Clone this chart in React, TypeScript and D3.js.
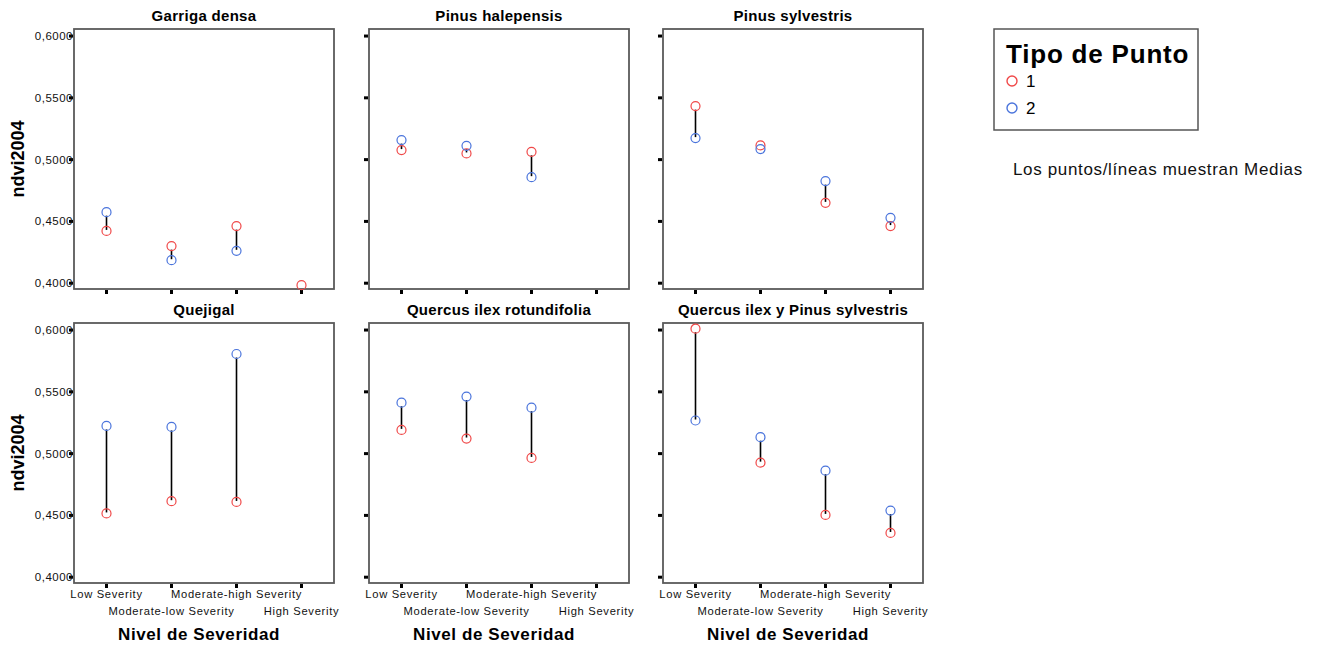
import React from "react";
import * as d3 from "d3";

// panel names, in reading order (top row then bottom row)
const panelNames = [
  "Garriga densa",
  "Pinus halepensis",
  "Pinus sylvestris",
  "Quejigal",
  "Quercus ilex rotundifolia",
  "Quercus ilex y Pinus sylvestris",
];

const severityLevels = [
  "Low Severity",
  "Moderate-low Severity",
  "Moderate-high Severity",
  "High Severity",
];

const yTickValues = [0.4, 0.45, 0.5, 0.55, 0.6];

// mean ndvi2004 per panel and severity level, Tipo de Punto = 1
const tipo1Means = [
  [0.4423, 0.43, 0.4462, 0.3984],
  [0.5077, 0.505, 0.5063, null],
  [0.5433, 0.5115, 0.465, 0.4462],
  [0.4516, 0.4615, 0.4609, null],
  [0.5192, 0.5122, 0.4965, null],
  [0.6011, 0.4927, 0.4504, 0.4358],
];

// Tipo de Punto = 2
const tipo2Means = [
  [0.4575, 0.4186, 0.4262, null],
  [0.5158, 0.5112, 0.4858, null],
  [0.5174, 0.5085, 0.4826, 0.4529],
  [0.5224, 0.5216, 0.5806, null],
  [0.5412, 0.5462, 0.5372, null],
  [0.5268, 0.5133, 0.4862, 0.4539],
];

const legendLabels = ["1", "2"];
const colors = ["#f04848", "#4a74dc"];

const font = "Arial, 'Liberation Sans', sans-serif";
const size = 260;
const colX = [74, 369, 663];
const rowY = [29, 323];
const r = 4.5;

const x = d3.scaleBand().domain(severityLevels).range([0, size]);
const y = d3.scaleLinear().domain([0.3953, 0.6057]).range([size, 0]);
const fmt = (v) => d3.format(".4f")(v).replace(".", ",");

function Panel({ idx }) {
  const col = idx % 3;
  const row = Math.floor(idx / 3);
  const left = colX[col];
  const top = rowY[row];
  const cx = (l) => x(l) + x.bandwidth() / 2;
  const a = tipo1Means[idx];
  const b = tipo2Means[idx];

  return (
    <g transform={`translate(${left},${top})`}>
      <text
        x={size / 2}
        y={-8}
        textAnchor="middle"
        fontFamily={font}
        fontWeight="bold"
        fontSize={15}
        letterSpacing={0.3}
      >
        {panelNames[idx]}
      </text>
      <rect width={size} height={size} fill="none" stroke="#5a5a5a" strokeWidth={1.8} />
      {yTickValues.map((v) => (
        <g key={v}>
          <rect x={-5} y={y(v) - 1.5} width={4} height={3} fill="#000" />
          {col === 0 && (
            <text
              x={-1}
              y={y(v) + 4}
              textAnchor="end"
              fontFamily={font}
              fontSize={11.5}
              letterSpacing={0.5}
              fill="#111"
            >
              {fmt(v)}
            </text>
          )}
        </g>
      ))}
      {severityLevels.map((l, i) => (
        <g key={l}>
          <rect x={cx(l) - 1.5} y={size + 1} width={3} height={4} fill="#000" />
          {row === 1 && (
            <text
              x={cx(l)}
              y={size + (i % 2 === 0 ? 15 : 32)}
              textAnchor="middle"
              fontFamily={font}
              fontSize={11.2}
              letterSpacing={0.7}
              fill="#111"
            >
              {l}
            </text>
          )}
        </g>
      ))}
      {severityLevels.map((l, i) => {
        if (a[i] == null || b[i] == null) return null;
        const y1 = Math.min(y(a[i]), y(b[i]));
        const y2 = Math.max(y(a[i]), y(b[i]));
        if (y2 - y1 < 2 * r - 2) return null;
        return (
          <line
            key={"ln" + l}
            x1={cx(l)}
            x2={cx(l)}
            y1={y1 + r - 1}
            y2={y2 - 1}
            stroke="#000"
            strokeWidth={1.6}
          />
        );
      })}
      {[a, b].map((vals, s) =>
        severityLevels.map((l, i) =>
          vals[i] == null ? null : (
            <circle
              key={s + l}
              cx={cx(l)}
              cy={y(vals[i])}
              r={r}
              fill="none"
              stroke={colors[s]}
              strokeWidth={1.2}
            />
          )
        )
      )}
      {col === 0 && (
        <text
          transform={`translate(${-50},${size / 2}) rotate(-90)`}
          textAnchor="middle"
          fontFamily={font}
          fontWeight="bold"
          fontSize={18}
        >
          ndvi2004
        </text>
      )}
      {row === 1 && (
        <text
          x={size / 2 - 5}
          y={size + 57}
          textAnchor="middle"
          fontFamily={font}
          fontWeight="bold"
          fontSize={17}
          letterSpacing={0.6}
        >
          Nivel de Severidad
        </text>
      )}
    </g>
  );
}

export default function App() {
  return (
    <svg
      width={1320}
      height={646}
      style={{ position: "absolute", left: 0, top: 0, background: "#fff" }}
    >
      {panelNames.map((n, i) => (
        <Panel key={n} idx={i} />
      ))}
      <g transform="translate(994,29)">
        <rect width={204} height={101} fill="#fff" stroke="#555" strokeWidth={1.5} />
        <text x={12} y={34} fontFamily={font} fontWeight="bold" fontSize={26} letterSpacing={0.8}>
          Tipo de Punto
        </text>
        {legendLabels.map((t, i) => (
          <g key={t}>
            <circle cx={18} cy={52 + i * 27} r={5} fill="none" stroke={colors[i]} strokeWidth={1.4} />
            <text x={32} y={58 + i * 27} fontFamily={font} fontSize={17}>
              {t}
            </text>
          </g>
        ))}
      </g>
      <text x={1013} y={175} fontFamily={font} fontSize={17} letterSpacing={0.65} fill="#111">
        Los puntos/líneas muestran Medias
      </text>
    </svg>
  );
}
